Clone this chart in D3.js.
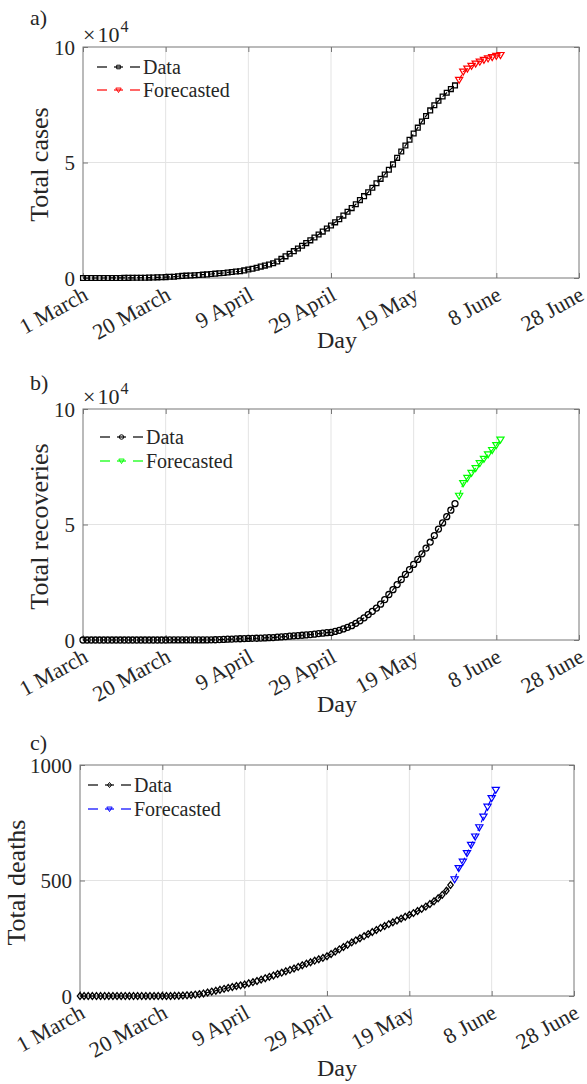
<!DOCTYPE html>
<html><head><meta charset="utf-8">
<script src="https://cdn.jsdelivr.net/npm/d3@7"></script>
<style>body{margin:0;background:#fff}svg{display:block}text{font-family:"Liberation Serif","Times New Roman",serif;fill:#262626}</style>
</head><body><svg id="c" width="587" height="1084"></svg>
<script>
// ---- data (day 0 = 1 March) ----
const xTickDays = [0, 20, 40, 60, 80, 100, 120];
const xTickLabels = ["1 March", "20 March", "9 April", "29 April", "19 May", "8 June", "28 June"];

const casesData = [1,1,2,5,5,11,15,15,20,21,45,62,86,103,118,133,171,238,274,344,392,511,562,767,900,1012,1104,1203,1299,1453,1563,1720,1885,2039,2179,2402,2605,2795,2932,3287,3651,4033,4462,4934,5369,5862,6380,7142,8274,9362,10484,11631,12772,13930,15102,16299,17522,18811,20077,21402,22753,24097,25459,27011,28656,30251,31938,33731,35432,37136,39048,41014,42925,44830,46869,49176,52016,54752,57345,59854,62545,65077,67719,70161,72560,74795,76726,78541,80185,81766,83384];
const casesForecast = [85700,89300,90600,91800,92800,93600,94400,95000,95600,96100,96500];

const recovData = [0,0,0,0,0,0,0,0,0,0,0,0,0,0,0,1,1,2,6,8,10,16,16,28,28,29,31,33,35,37,49,66,99,165,239,351,420,488,551,603,685,720,761,851,917,990,1049,1207,1329,1490,1640,1812,1925,2049,2215,2357,2531,2784,2963,3163,3300,3700,4200,4800,5500,6200,7200,8300,9600,11000,12400,13800,15500,17500,19700,21800,24000,26200,28400,30500,32700,34900,37300,39800,42400,45200,48000,50700,53400,56200,59000];
const recovForecast = [62400,67900,70100,72300,74400,76500,78400,80300,82200,84300,86700];

const deathsData = [0,0,0,0,0,0,0,0,0,0,0,0,0,0,0,0,0,0,0,0,0,0,0,1,1,2,3,4,6,8,11,15,19,23,27,31,35,39,43,46,50,55,60,65,71,77,83,89,95,101,107,113,119,126,133,140,146,153,159,165,172,182,192,202,212,222,232,241,250,259,268,277,286,295,303,311,319,327,335,343,351,359,368,377,387,398,410,423,438,456,480];
const deathsForecast = [505,553,581,618,654,690,730,776,819,856,892];
const forecastStartDay = 91;

const yTicksCases = [0, 50000, 100000], yTickLabelsCases = ["0", "5", "10"];
const yTicksDeaths = [0, 500, 1000], yTickLabelsDeaths = ["0", "500", "1000"];

// ---- layout ----
const panels = [
  {letter:"a)", ly:25, left:83, right:579, top:47, bottom:278, ymax:100000, yt:yTicksCases, ytl:yTickLabelsCases, exp:true,
   ylabel:"Total cases", ylx:48, xlY:348, data:casesData, fc:casesForecast, marker:"square", color:"#ff0000", legX:97, legY:[67,90]},
  {letter:"b)", ly:390, left:83, right:579, top:409, bottom:640, ymax:100000, yt:yTicksCases, ytl:yTickLabelsCases, exp:true,
   ylabel:"Total recoveries", ylx:48, xlY:712, data:recovData, fc:recovForecast, marker:"circle", color:"#00ff00", legX:100, legY:[437,461]},
  {letter:"c)", ly:750, left:80, right:574, top:765, bottom:996, ymax:1000, yt:yTicksDeaths, ytl:yTickLabelsDeaths, exp:false,
   ylabel:"Total deaths", ylx:25, xlY:1076, data:deathsData, fc:deathsForecast, marker:"diamond", color:"#0000ff", legX:88, legY:[785,809]}
];

const svg = d3.select("#c");
const tri = "M-3.6,-2.6L3.6,-2.6L0,3.4Z";
function markerPath(type){
  if(type==="square") return "M-2.4,-2.4h4.8v4.8h-4.8z";
  if(type==="circle") return d3.symbol().type(d3.symbolCircle).size(Math.PI*3*3)();
  if(type==="diamond") return "M0,-3.4L2.7,0L0,3.4L-2.7,0Z";
}

panels.forEach(p=>{
  const g = svg.append("g");
  const x = d3.scaleLinear().domain([0,120]).range([p.left,p.right]);
  const y = d3.scaleLinear().domain([0,p.ymax]).range([p.bottom,p.top]);
  // grid
  g.append("g").selectAll("line").data(xTickDays.slice(1,-1)).join("line")
    .attr("x1",d=>x(d)).attr("x2",d=>x(d)).attr("y1",p.top).attr("y2",p.bottom).attr("stroke","#e3e3e3").attr("stroke-width",1);
  g.append("g").selectAll("line").data(p.yt.slice(1,-1)).join("line")
    .attr("y1",d=>y(d)).attr("y2",d=>y(d)).attr("x1",p.left).attr("x2",p.right).attr("stroke","#e3e3e3").attr("stroke-width",1);
  // axes
  const xb = g.append("g").attr("transform",`translate(0,${p.bottom})`)
    .call(d3.axisBottom(x).tickValues(xTickDays).tickSize(-5).tickSizeOuter(0).tickFormat((d,i)=>xTickLabels[i]));
  xb.selectAll("text").attr("text-anchor","end").attr("dy",0).attr("y",0)
    .attr("transform","translate(6,21) rotate(-29)").style("font-size","22px");
  const xt = g.append("g").attr("transform",`translate(0,${p.top})`)
    .call(d3.axisTop(x).tickValues(xTickDays).tickSize(-5).tickSizeOuter(0).tickFormat(""));
  const yl = g.append("g").attr("transform",`translate(${p.left},0)`)
    .call(d3.axisLeft(y).tickValues(p.yt).tickSize(-5).tickSizeOuter(0).tickFormat((d,i)=>p.ytl[i]));
  yl.selectAll("text").attr("x",-8).attr("dy","0.34em").style("font-size","21px");
  const yr = g.append("g").attr("transform",`translate(${p.right},0)`)
    .call(d3.axisRight(y).tickValues(p.yt).tickSize(-5).tickSizeOuter(0).tickFormat(""));
  [xb,xt,yl,yr].forEach(a=>{a.select(".domain").remove(); a.selectAll("line").attr("stroke","#777"); a.selectAll("text").attr("fill","#262626").style("font-family",'"Liberation Serif",serif');});
  g.append("rect").attr("x",p.left).attr("y",p.top).attr("width",p.right-p.left).attr("height",p.bottom-p.top)
    .attr("fill","none").attr("stroke","#777").attr("stroke-width",1);
  // labels
  g.append("text").attr("x",30).attr("y",p.ly).style("font-size","22px").text(p.letter);
  g.append("text").attr("x",337).attr("y",p.xlY).attr("text-anchor","middle").style("font-size","24px").text("Day");
  g.append("text").attr("transform",`translate(${p.ylx},${(p.top+p.bottom)/2+2}) rotate(-90)`).attr("text-anchor","middle").style("font-size","26px").text(p.ylabel);
  if(p.exp){
    const t = g.append("text").attr("x",p.left).attr("y",p.top-5).style("font-size","22px");
    t.append("tspan").text("\u00d7");
    t.append("tspan").attr("dx",2).text("10");
    t.append("tspan").attr("dx",1).attr("dy",-10).style("font-size","16px").text("4");
  }
  // data
  const pts = p.data.map((v,i)=>[i,v]);
  const fpts = p.fc.map((v,i)=>[forecastStartDay+i,v]);
  const line = d3.line().x(d=>x(d[0])).y(d=>y(d[1]));
  g.append("path").attr("d",line(pts)).attr("fill","none").attr("stroke","#000").attr("stroke-width",1.2).attr("stroke-dasharray","6,3");
  g.append("g").selectAll("path").data(pts).join("path").attr("d",markerPath(p.marker))
    .attr("transform",d=>`translate(${x(d[0])},${y(d[1])})`).attr("fill","none").attr("stroke","#000").attr("stroke-width",1.3);
  g.append("path").attr("d",line(fpts)).attr("fill","none").attr("stroke",p.color).attr("stroke-width",1.2).attr("stroke-dasharray","6,3");
  g.append("g").selectAll("path").data(fpts).join("path").attr("d",tri)
    .attr("transform",d=>`translate(${x(d[0])},${y(d[1])})`).attr("fill","none").attr("stroke",p.color).attr("stroke-width",1.2);
  // legend
  const leg = [{name:"Data",col:"#000",m:markerPath(p.marker)},{name:"Forecasted",col:p.color,m:tri}];
  leg.forEach((l,i)=>{
    const yy = p.legY[i];
    g.append("line").attr("x1",p.legX).attr("x2",p.legX+10).attr("y1",yy).attr("y2",yy).attr("stroke",l.col).attr("stroke-width",1.2);
    g.append("line").attr("x1",p.legX+33).attr("x2",p.legX+43).attr("y1",yy).attr("y2",yy).attr("stroke",l.col).attr("stroke-width",1.2);
    g.append("line").attr("x1",p.legX+17).attr("x2",p.legX+26).attr("y1",yy).attr("y2",yy).attr("stroke",l.col).attr("stroke-width",1.2);
    g.append("path").attr("d",l.m).attr("transform",`translate(${p.legX+21.5},${yy}) scale(0.75)`).attr("fill","none").attr("stroke",l.col).attr("stroke-width",1.3);
    g.append("text").attr("x",p.legX+46).attr("y",yy).attr("dy","0.33em").style("font-size","20px").text(l.name);
  });
});
</script></body></html>
